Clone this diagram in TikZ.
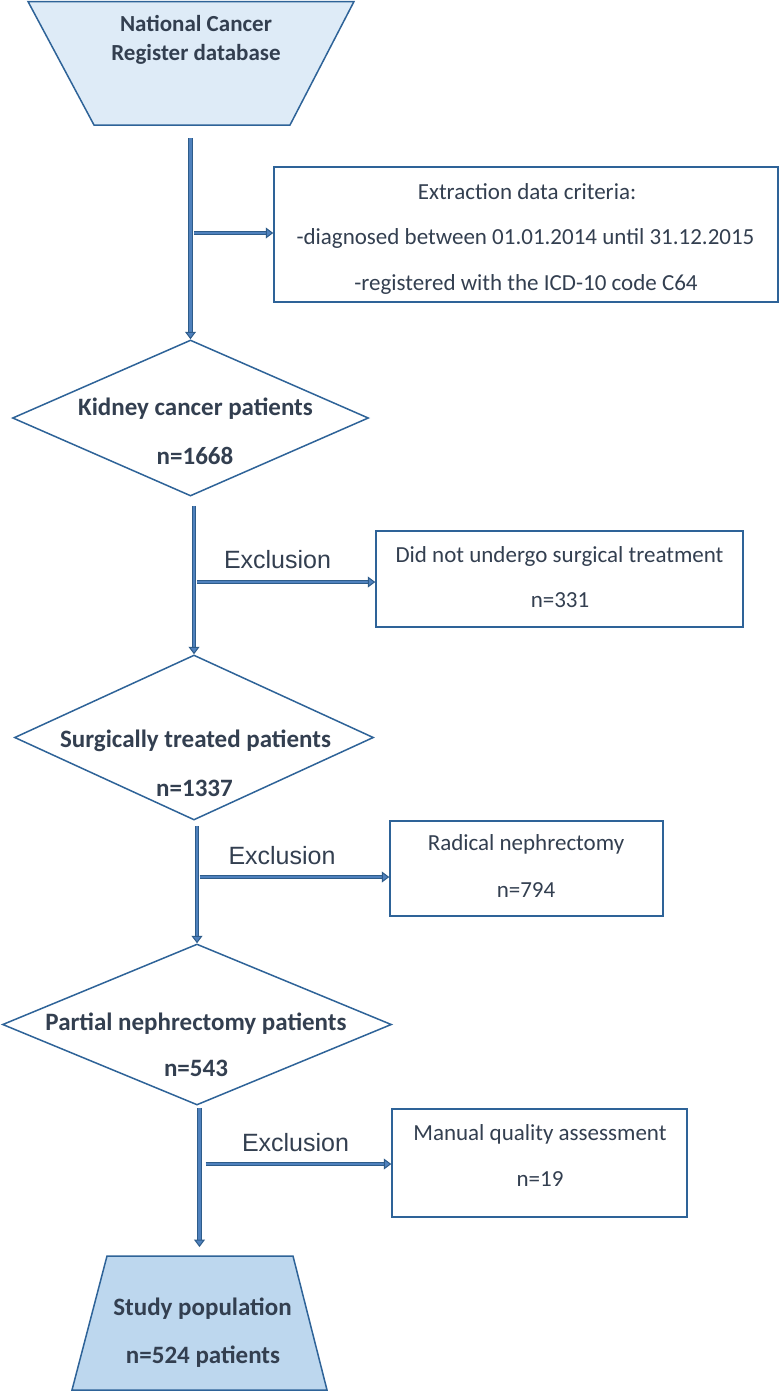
\documentclass[tikz,border=0pt]{standalone}
\usepackage{fontspec}
\setmainfont{Carlito}
\newfontfamily\arialf{Liberation Sans}
\usetikzlibrary{shapes.geometric,arrows.meta,calc}
\definecolor{edge}{HTML}{2E6398}
\definecolor{txt}{HTML}{333F50}
\definecolor{topfill}{HTML}{DEEBF7}
\definecolor{botfill}{HTML}{BDD7EE}
\definecolor{arrowout}{HTML}{2E5C8A}
\definecolor{arrowin}{HTML}{4F81BD}
\begin{document}
\begin{tikzpicture}[x=1pt,y=-1pt,
  shapeline/.style={draw=edge, line width=1.5pt, line join=miter},
  box/.style={shapeline, rectangle, inner sep=0pt},
  dia/.style={shapeline, diamond, inner sep=0pt},
  toptext/.style={text=txt, font=\fontsize{23}{25}\selectfont\bfseries, inner sep=0pt, anchor=base},
  boldtext/.style={text=txt, font=\fontsize{25}{27}\selectfont\bfseries, inner sep=0pt, anchor=base},
  regtext/.style={text=txt, font=\fontsize{23}{25}\selectfont, inner sep=0pt, anchor=base},
  excltext/.style={text=txt, font=\arialf\fontsize{25}{27}\selectfont, inner sep=0pt, anchor=base},
  flow/.style={draw=arrowout, double=arrowin, line width=1pt, double distance=2.8pt,
    -{Triangle[length=7.5pt,width=11pt,fill=arrowin]}},
]
\useasboundingbox[fill=white] (0,0) rectangle (781,1392);

% shapes
\draw[shapeline, fill=topfill] (28,1.5) -- (354,1.5) -- (290,125) -- (94,125) -- cycle;
\coordinate (src) at (191,125);
\node[dia, minimum width=356, minimum height=156] (d1) at (190.5,418) {};
\node[dia, minimum width=359, minimum height=165] (d2) at (194,737.5) {};
\node[dia, minimum width=389, minimum height=161] (d3) at (197,1024.5) {};
\draw[shapeline, fill=botfill] (107,1256) -- (293,1256) -- (327,1390) -- (72,1390) -- cycle;
\coordinate (pop) at (199.5,1256);

\node[box, minimum width=504, minimum height=135] (b1) at (526,234.5) {};
\node[box, minimum width=367, minimum height=96] (b2) at (559.5,579) {};
\node[box, minimum width=273, minimum height=95] (b3) at (526.5,868.5) {};
\node[box, minimum width=295, minimum height=108] (b4) at (539.5,1163) {};

% texts
\node[toptext] (t1) at (196,31.5) {National Cancer};
\node[toptext] (t2) at (196,60.5) {Register database};
\node[boldtext] (t3) at (195.5,415.5) {Kidney cancer patients};
\node[boldtext] (t4) at (195,464) {n=1668};
\node[boldtext] (t5) at (195.5,747) {Surgically treated patients};
\node[boldtext] (t6) at (194.5,796) {n=1337};
\node[boldtext] (t7) at (196,1030) {Partial nephrectomy patients};
\node[boldtext] (t8) at (196,1076) {n=543};
\node[boldtext] (t9) at (202.5,1315) {Study population};
\node[boldtext] (t10) at (203,1363) {n=524 patients};

\node[regtext] (r1) at (527,199.5) {Extraction data criteria:};
\node[regtext] (r2) at (525.5,244.5) {-diagnosed between 01.01.2014 until 31.12.2015};
\node[regtext] (r3) at (526,290.5) {-registered with the ICD-10 code C64};
\node[regtext] (r4) at (559.5,562.5) {Did not undergo surgical treatment};
\node[regtext] (r5) at (560,607.5) {n=331};
\node[regtext] (r6) at (526,850.5) {Radical nephrectomy};
\node[regtext] (r7) at (526,897.5) {n=794};
\node[regtext] (r8) at (540,1140.5) {Manual quality assessment};
\node[regtext] (r9) at (540,1186.5) {n=19};

\node[excltext] (e1) at (277.5,568) {Exclusion};
\node[excltext] (e2) at (282,864) {Exclusion};
\node[excltext] (e3) at (295.5,1151) {Exclusion};

% connector end points
\path (src) ++(0,13) coordinate (s1);
\path (d1.south) ++(0,9) coordinate (s2);
\path (d2.south) ++(0,5) coordinate (s3);
\path (d3.south) ++(0,2) coordinate (s4);
\path (pop) ++(0,-9) coordinate (p4);

\coordinate (h1x) at ($(d1.north)+(3.5,0)$);
\coordinate (h2x) at ($(d2.north)+(2.5,0)$);
\coordinate (h3x) at ($(d3.north)+(2.5,0)$);
\coordinate (h4x) at ($(pop)+(6,0)$);
\coordinate (h1e) at ($(b1.west)+(0,-1.5)$);
\coordinate (h2e) at ($(b2.west)+(0,3)$);
\coordinate (h3e) at ($(b3.west)+(0,8.5)$);
\coordinate (h4e) at ($(b4.west)+(0,1)$);

% connectors
\draw[flow] (s1 -| d1.north) -- (d1.north);
\draw[flow] (s2 -| d2.north) -- (d2.north);
\draw[flow] (s3 -| d3.north) -- (d3.north);
\draw[flow] (s4 -| pop) -- (p4);

\draw[flow] (h1x |- h1e) -- (h1e);
\draw[flow] (h2x |- h2e) -- (h2e);
\draw[flow] (h3x |- h3e) -- (h3e);
\draw[flow] (h4x |- h4e) -- (h4e);
\end{tikzpicture}
\end{document}
